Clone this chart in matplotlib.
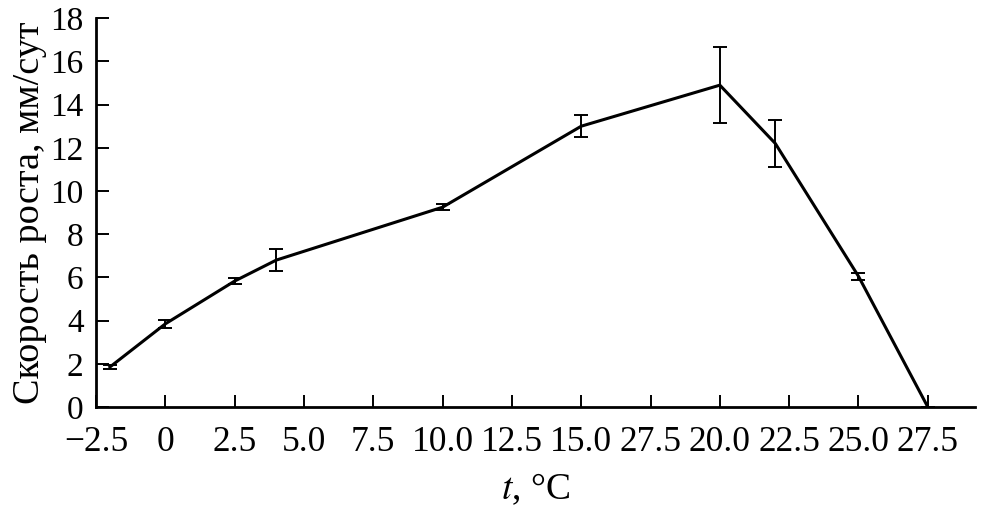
import matplotlib.pyplot as plt

plt.rcParams["font.family"] = ["Liberation Serif", "DejaVu Serif"]
plt.rcParams["mathtext.fontset"] = "stix"

# growth rate vs temperature
temp = [-2.0, 0.0, 2.5, 4.0, 10.0, 15.0, 20.0, 22.0, 25.0, 27.5]
rate = [1.85, 3.85, 5.83, 6.8, 9.25, 13.0, 14.9, 12.2, 6.05, 0.0]
err = [0.1, 0.2, 0.12, 0.5, 0.15, 0.52, 1.76, 1.1, 0.15, 0.0]

xticks = [-2.5, 0, 2.5, 5.0, 7.5, 10.0, 12.5, 15.0, 17.5, 20.0, 22.5, 25.0, 27.5]
xticklabels = ["\u22122.5", "0", "2.5", "5.0", "7.5", "10.0", "12.5", "15.0",
               "27.5", "20.0", "22.5", "25.0", "27.5"]
yticks = [0, 2, 4, 6, 8, 10, 12, 14, 16, 18]

fig = plt.figure(figsize=(9.82, 5.17), dpi=100)
ax = fig.add_axes([0.0978, 0.2128, 0.895, 0.752])

ax.errorbar(temp, rate, yerr=err, color="black", linewidth=2.2,
            elinewidth=1.4, capsize=5, capthick=1.4)

ax.set_xlim(-2.5, 29.2)
ax.set_ylim(0, 18)
ax.set_xticks(xticks)
ax.set_xticklabels(xticklabels)
ax.set_yticks(yticks)
ax.tick_params(direction="in", length=9, width=1.4)
ax.tick_params(axis="x", labelsize=25.5, pad=14)
ax.tick_params(axis="y", labelsize=24, pad=9)

for s in ["top", "right"]:
    ax.spines[s].set_visible(False)
for s in ["left", "bottom"]:
    ax.spines[s].set_linewidth(2.0)

ax.set_ylabel("Скорость роста, мм/сут", fontsize=27.5, labelpad=2)
ax.set_xlabel("$t$, °C", fontsize=27, labelpad=9)

fig.savefig("out.png", dpi=100)
